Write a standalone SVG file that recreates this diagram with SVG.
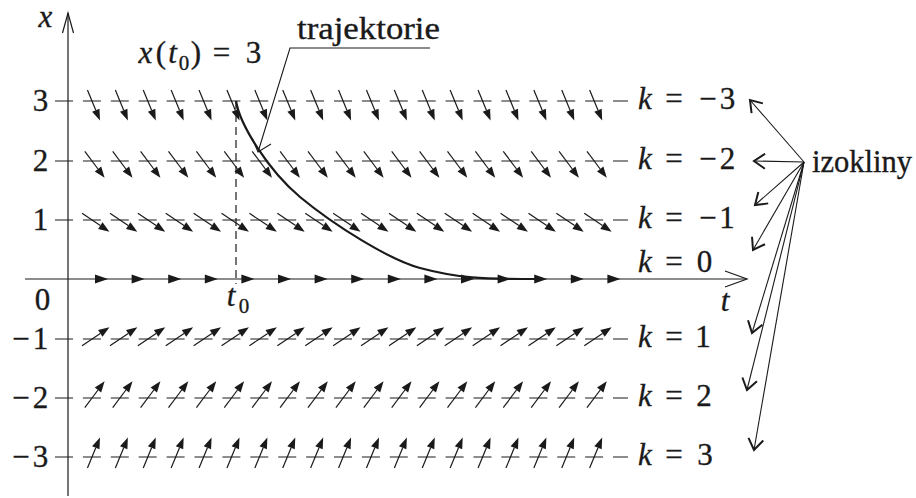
<svg xmlns="http://www.w3.org/2000/svg" width="916" height="498" viewBox="0 0 916 498" font-size="31">
<style>
  .ln{stroke:#1a1a1a;stroke-width:1.2;fill:none}
  .row{stroke:#1a1a1a;stroke-width:1.2;fill:none;stroke-dasharray:18 9.9}
  .hd{fill:#1a1a1a;stroke:none}
  .iz{stroke:#1a1a1a;stroke-width:1.1;fill:none;marker-end:url(#v)}
  text{font-family:"Liberation Serif","DejaVu Serif",serif;fill:#1a1a1a;stroke:#1a1a1a;stroke-width:0.35}
  .it{font-style:italic}
  .m{text-anchor:middle}
</style>
<defs>
  <marker id="v" markerUnits="userSpaceOnUse" viewBox="-15 -15 30 30" markerWidth="30" markerHeight="30" refX="0" refY="0" orient="auto" overflow="visible">
    <path d="M-11,-7.5 L0,0 L-11,7.5" fill="none" stroke="#1a1a1a" stroke-width="2"/>
  </marker>
  <g id="am3"><line class="ln" x1="-4.56" y1="-11.1" x2="3.8" y2="9.2"/><polygon class="hd" points="7.98,19.4 0.1,10.72 7.5,7.68"/></g>
  <g id="am2"><line class="ln" x1="-7.2" y1="-9.6" x2="6" y2="8"/><polygon class="hd" points="12.6,16.8 2.8,10.4 9.2,5.6"/></g>
  <g id="am1"><line class="ln" x1="-9.96" y1="-6.68" x2="8.3" y2="5.57"/><polygon class="hd" points="17.43,11.7 6.07,8.89 10.53,2.25"/></g>
  <g id="ap1"><line class="ln" x1="-9.96" y1="6.68" x2="8.3" y2="-5.57"/><polygon class="hd" points="17.43,-11.7 6.07,-8.89 10.53,-2.25"/></g>
  <g id="ap2"><line class="ln" x1="-7.2" y1="9.6" x2="6" y2="-8"/><polygon class="hd" points="12.6,-16.8 2.8,-10.4 9.2,-5.6"/></g>
  <g id="ap3"><line class="ln" x1="-4.56" y1="11.1" x2="3.8" y2="-9.2"/><polygon class="hd" points="7.98,-19.4 0.1,-10.72 7.5,-7.68"/></g>
  <polygon id="a0" class="hd" points="0,0 -13,-4.5 -13,4.5"/>
</defs>

<g id="axes">
  <line class="ln" x1="68" y1="13" x2="68" y2="496"/>
  <path class="ln" d="M62.5,33 L68,13 L73.5,33"/>
  <line class="ln" x1="25" y1="279" x2="747" y2="279"/>
  <path class="ln" d="M725,271 L747,279 L725,287"/>
  <line class="ln" x1="236" y1="101" x2="236" y2="284" style="stroke-dasharray:8 5"/>
</g>

<g id="row-k-3">
  <line class="row" x1="55" y1="101" x2="628" y2="101"/>
  <use href="#am3" x="92" y="101"/><use href="#am3" x="119.9" y="101"/><use href="#am3" x="147.8" y="101"/><use href="#am3" x="175.7" y="101"/><use href="#am3" x="203.6" y="101"/><use href="#am3" x="231.5" y="101"/><use href="#am3" x="259.4" y="101"/><use href="#am3" x="287.3" y="101"/><use href="#am3" x="315.2" y="101"/><use href="#am3" x="343.1" y="101"/><use href="#am3" x="371" y="101"/><use href="#am3" x="398.9" y="101"/><use href="#am3" x="426.8" y="101"/><use href="#am3" x="454.7" y="101"/><use href="#am3" x="482.6" y="101"/><use href="#am3" x="510.5" y="101"/><use href="#am3" x="538.4" y="101"/><use href="#am3" x="566.3" y="101"/><use href="#am3" x="594.2" y="101"/>
</g>
<g id="row-k-2">
  <line class="row" x1="55" y1="161" x2="628" y2="161"/>
  <use href="#am2" x="92" y="161"/><use href="#am2" x="119.9" y="161"/><use href="#am2" x="147.8" y="161"/><use href="#am2" x="175.7" y="161"/><use href="#am2" x="203.6" y="161"/><use href="#am2" x="231.5" y="161"/><use href="#am2" x="259.4" y="161"/><use href="#am2" x="287.3" y="161"/><use href="#am2" x="315.2" y="161"/><use href="#am2" x="343.1" y="161"/><use href="#am2" x="371" y="161"/><use href="#am2" x="398.9" y="161"/><use href="#am2" x="426.8" y="161"/><use href="#am2" x="454.7" y="161"/><use href="#am2" x="482.6" y="161"/><use href="#am2" x="510.5" y="161"/><use href="#am2" x="538.4" y="161"/><use href="#am2" x="566.3" y="161"/><use href="#am2" x="594.2" y="161"/>
</g>
<g id="row-k-1">
  <line class="row" x1="55" y1="220" x2="628" y2="220"/>
  <use href="#am1" x="92" y="220"/><use href="#am1" x="119.9" y="220"/><use href="#am1" x="147.8" y="220"/><use href="#am1" x="175.7" y="220"/><use href="#am1" x="203.6" y="220"/><use href="#am1" x="231.5" y="220"/><use href="#am1" x="259.4" y="220"/><use href="#am1" x="287.3" y="220"/><use href="#am1" x="315.2" y="220"/><use href="#am1" x="343.1" y="220"/><use href="#am1" x="371" y="220"/><use href="#am1" x="398.9" y="220"/><use href="#am1" x="426.8" y="220"/><use href="#am1" x="454.7" y="220"/><use href="#am1" x="482.6" y="220"/><use href="#am1" x="510.5" y="220"/><use href="#am1" x="538.4" y="220"/><use href="#am1" x="566.3" y="220"/><use href="#am1" x="594.2" y="220"/>
</g>
<g id="row-k0">
  <use href="#a0" x="108" y="279"/><use href="#a0" x="144.6" y="279"/><use href="#a0" x="181.2" y="279"/><use href="#a0" x="217.8" y="279"/><use href="#a0" x="254.4" y="279"/><use href="#a0" x="291" y="279"/><use href="#a0" x="327.6" y="279"/><use href="#a0" x="364.2" y="279"/><use href="#a0" x="400.8" y="279"/><use href="#a0" x="437.4" y="279"/><use href="#a0" x="474" y="279"/><use href="#a0" x="510.6" y="279"/><use href="#a0" x="547.2" y="279"/><use href="#a0" x="583.8" y="279"/><use href="#a0" x="620.4" y="279"/>
</g>
<g id="row-k1">
  <line class="row" x1="55" y1="339" x2="628" y2="339"/>
  <use href="#ap1" x="92" y="339"/><use href="#ap1" x="119.9" y="339"/><use href="#ap1" x="147.8" y="339"/><use href="#ap1" x="175.7" y="339"/><use href="#ap1" x="203.6" y="339"/><use href="#ap1" x="231.5" y="339"/><use href="#ap1" x="259.4" y="339"/><use href="#ap1" x="287.3" y="339"/><use href="#ap1" x="315.2" y="339"/><use href="#ap1" x="343.1" y="339"/><use href="#ap1" x="371" y="339"/><use href="#ap1" x="398.9" y="339"/><use href="#ap1" x="426.8" y="339"/><use href="#ap1" x="454.7" y="339"/><use href="#ap1" x="482.6" y="339"/><use href="#ap1" x="510.5" y="339"/><use href="#ap1" x="538.4" y="339"/><use href="#ap1" x="566.3" y="339"/><use href="#ap1" x="594.2" y="339"/>
</g>
<g id="row-k2">
  <line class="row" x1="55" y1="398" x2="628" y2="398"/>
  <use href="#ap2" x="92" y="398"/><use href="#ap2" x="119.9" y="398"/><use href="#ap2" x="147.8" y="398"/><use href="#ap2" x="175.7" y="398"/><use href="#ap2" x="203.6" y="398"/><use href="#ap2" x="231.5" y="398"/><use href="#ap2" x="259.4" y="398"/><use href="#ap2" x="287.3" y="398"/><use href="#ap2" x="315.2" y="398"/><use href="#ap2" x="343.1" y="398"/><use href="#ap2" x="371" y="398"/><use href="#ap2" x="398.9" y="398"/><use href="#ap2" x="426.8" y="398"/><use href="#ap2" x="454.7" y="398"/><use href="#ap2" x="482.6" y="398"/><use href="#ap2" x="510.5" y="398"/><use href="#ap2" x="538.4" y="398"/><use href="#ap2" x="566.3" y="398"/><use href="#ap2" x="594.2" y="398"/>
</g>
<g id="row-k3">
  <line class="row" x1="55" y1="457" x2="628" y2="457"/>
  <use href="#ap3" x="92" y="457"/><use href="#ap3" x="119.9" y="457"/><use href="#ap3" x="147.8" y="457"/><use href="#ap3" x="175.7" y="457"/><use href="#ap3" x="203.6" y="457"/><use href="#ap3" x="231.5" y="457"/><use href="#ap3" x="259.4" y="457"/><use href="#ap3" x="287.3" y="457"/><use href="#ap3" x="315.2" y="457"/><use href="#ap3" x="343.1" y="457"/><use href="#ap3" x="371" y="457"/><use href="#ap3" x="398.9" y="457"/><use href="#ap3" x="426.8" y="457"/><use href="#ap3" x="454.7" y="457"/><use href="#ap3" x="482.6" y="457"/><use href="#ap3" x="510.5" y="457"/><use href="#ap3" x="538.4" y="457"/><use href="#ap3" x="566.3" y="457"/><use href="#ap3" x="594.2" y="457"/>
</g>

<g id="trajectory">
  <path d="M236,101 C240,125 268,170 300,197 C335,226 390,260 420,268 C459,278.4 480,279 540,279" fill="none" stroke="#1a1a1a" stroke-width="2.2"/>
</g>

<g id="connectors">
  <polyline class="ln" points="430,48 290,48 258,152" style="stroke-width:1.1"/>
  <path class="ln" d="M252,138 L258,152 L271,144" style="stroke-width:1.1"/>
  <line class="iz" x1="804" y1="162" x2="750" y2="100"/>
  <line class="iz" x1="804" y1="162" x2="754" y2="161"/>
  <line class="iz" x1="804" y1="162" x2="755" y2="205"/>
  <line class="iz" x1="804" y1="162" x2="753" y2="250"/>
  <line class="iz" x1="804" y1="162" x2="752" y2="333"/>
  <line class="iz" x1="804" y1="162" x2="747" y2="390"/>
  <line class="iz" x1="804" y1="162" x2="754" y2="450"/>
</g>

<g id="axis-labels">
  <text class="it m" x="45.5" y="27">x</text>
  <text class="it m" x="725" y="311">t</text>
  <text class="m" x="42.5" y="310">0</text>
  <text class="it m" x="231" y="306">t</text>
  <text class="m" x="244" y="313" font-size="21">0</text>
  <text class="m" x="40.5" y="111">3</text>
  <text class="m" x="40.5" y="171">2</text>
  <text class="m" x="40.5" y="230">1</text>
  <text class="m" x="21" y="349">−</text><text class="m" x="40.5" y="349">1</text>
  <text class="m" x="21" y="408">−</text><text class="m" x="40.5" y="408">2</text>
  <text class="m" x="21" y="467">−</text><text class="m" x="40.5" y="467">3</text>
</g>

<g id="k-labels">
  <text class="m" y="109"><tspan class="it" x="645">k</tspan><tspan x="674">=</tspan><tspan x="708">−</tspan><tspan x="727.5">3</tspan></text>
  <text class="m" y="169"><tspan class="it" x="645">k</tspan><tspan x="674">=</tspan><tspan x="708">−</tspan><tspan x="727.5">2</tspan></text>
  <text class="m" y="228"><tspan class="it" x="645">k</tspan><tspan x="674">=</tspan><tspan x="708">−</tspan><tspan x="727">1</tspan></text>
  <text class="m" y="272"><tspan class="it" x="645">k</tspan><tspan x="674">=</tspan><tspan x="704.5">0</tspan></text>
  <text class="m" y="347"><tspan class="it" x="645">k</tspan><tspan x="674">=</tspan><tspan x="703">1</tspan></text>
  <text class="m" y="406"><tspan class="it" x="645">k</tspan><tspan x="674">=</tspan><tspan x="704">2</tspan></text>
  <text class="m" y="465"><tspan class="it" x="645">k</tspan><tspan x="674">=</tspan><tspan x="705">3</tspan></text>
</g>

<g id="node-initial">
  <text class="m" y="63"><tspan class="it" x="145.5">x</tspan><tspan x="161">(</tspan><tspan class="it" x="172.5">t</tspan><tspan x="184" y="70" font-size="21">0</tspan><tspan x="196" y="63">)</tspan><tspan x="221.5">=</tspan><tspan x="253.5">3</tspan></text>
</g>
<g id="node-trajektorie">
  <text x="297" y="39" textLength="143" lengthAdjust="spacingAndGlyphs">trajektorie</text>
</g>
<g id="node-izokliny">
  <text x="812" y="172" textLength="100" lengthAdjust="spacingAndGlyphs">izokliny</text>
</g>
</svg>
